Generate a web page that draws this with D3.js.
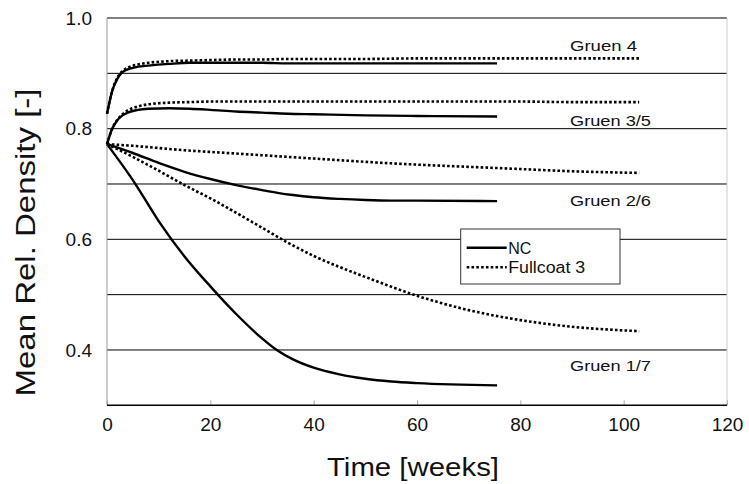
<!DOCTYPE html>
<html>
<head>
<meta charset="utf-8">
<script src="https://cdn.jsdelivr.net/npm/d3@7"></script>
<style>
  body { margin: 0; background: #fff; }
  text { font-family: "Liberation Sans", Arial, Helvetica, sans-serif; fill: #111; }
</style>
</head>
<body>
<div class="chart"></div>
<script>
var margin = {top: 18, right: 22, bottom: 78.7, left: 107};
var width = 749 - margin.left - margin.right;
var height = 484 - margin.top - margin.bottom;

// data
let ncWeeks = [0, 1, 2, 3, 4, 6, 8, 12, 16, 20, 25, 30, 35, 40, 50, 60, 75.5];
let gruen4NC  = [0.827, 0.868, 0.890, 0.902, 0.907, 0.912, 0.914, 0.917, 0.919, 0.919, 0.919, 0.919, 0.918, 0.918, 0.918, 0.918, 0.918];
let gruen35NC = [0.772, 0.800, 0.815, 0.824, 0.829, 0.834, 0.836, 0.837, 0.836, 0.834, 0.831, 0.829, 0.827, 0.826, 0.824, 0.823, 0.822];

let fcWeeks = [0, 1, 2, 3, 4, 6, 8, 12, 16, 20, 25, 30, 35, 40, 50, 60, 70, 80, 90, 103];
let gruen4FC  = [0.827, 0.868, 0.892, 0.904, 0.910, 0.916, 0.919, 0.922, 0.923, 0.924, 0.925, 0.925, 0.926, 0.926, 0.926, 0.927, 0.927, 0.927, 0.927, 0.927];
let gruen35FC = [0.772, 0.800, 0.816, 0.826, 0.833, 0.840, 0.844, 0.847, 0.848, 0.849, 0.849, 0.849, 0.849, 0.849, 0.849, 0.849, 0.849, 0.849, 0.848, 0.848];

let lowNcWeeks = [0, 5, 10, 15, 20, 25, 30, 33, 36, 40, 45, 50, 55, 60, 75.5];
let gruen26NC = [0.772, 0.756, 0.738, 0.722, 0.709, 0.698, 0.689, 0.684, 0.680, 0.676, 0.673, 0.671, 0.670, 0.670, 0.669];
let gruen17NC = [0.772, 0.707, 0.633, 0.569, 0.515, 0.465, 0.421, 0.399, 0.383, 0.368, 0.356, 0.348, 0.343, 0.340, 0.336];

let lowFcWeeks = [0, 5, 10, 15, 20, 25, 30, 35, 40, 45, 50, 60, 70, 80, 90, 103];
let gruen26FC = [0.772, 0.769, 0.765, 0.761, 0.758, 0.755, 0.752, 0.749, 0.746, 0.743, 0.740, 0.735, 0.731, 0.727, 0.723, 0.720];
let gruen17FC = [0.772, 0.749, 0.724, 0.698, 0.674, 0.648, 0.621, 0.594, 0.570, 0.550, 0.532, 0.498, 0.472, 0.454, 0.442, 0.434];

let xTicks = [0, 20, 40, 60, 80, 100, 120];
let yTickLabels = [0.4, 0.6, 0.8, 1.0];
let gridValues = [0.4, 0.5, 0.6, 0.7, 0.8, 0.9, 1.0];

let labels = [
  {text: 'Gruen 4', y: 0.94},
  {text: 'Gruen 3/5', y: 0.804},
  {text: 'Gruen 2/6', y: 0.66},
  {text: 'Gruen 1/7', y: 0.362}
];
let legendItems = [{name: 'NC', dash: null}, {name: 'Fullcoat 3', dash: '2.6,2.2'}];

let zip = (ts, vs) => ts.map((t, i) => [t, vs[i]]);
let series = [
  {pts: zip(ncWeeks, gruen4NC), dotted: false},
  {pts: zip(fcWeeks, gruen4FC), dotted: true},
  {pts: zip(ncWeeks, gruen35NC), dotted: false},
  {pts: zip(fcWeeks, gruen35FC), dotted: true},
  {pts: zip(lowNcWeeks, gruen26NC), dotted: false},
  {pts: zip(lowFcWeeks, gruen26FC), dotted: true},
  {pts: zip(lowNcWeeks, gruen17NC), dotted: false},
  {pts: zip(lowFcWeeks, gruen17FC), dotted: true}
];

let svg = d3.select('.chart')
  .append('svg')
  .attr('width', 749)
  .attr('height', 484)
  .append('g')
  .attr('transform', `translate(${margin.left}, ${margin.top})`);

let xScale = d3.scaleLinear().domain([0, 120]).range([0, width]);
let yScale = d3.scaleLinear().domain([0.3, 1.0]).range([height, 0]);

// gridlines
svg.selectAll('.grid')
  .data(gridValues)
  .enter()
  .append('line')
  .attr('x1', 0)
  .attr('x2', width)
  .attr('y1', d => yScale(d))
  .attr('y2', d => yScale(d))
  .style('stroke', '#000')
  .style('stroke-width', 1);

// left and right borders
svg.append('line').attr('x1', 0).attr('x2', 0).attr('y1', 0).attr('y2', height)
  .style('stroke', '#999').style('stroke-width', 1);
svg.append('line').attr('x1', width).attr('x2', width).attr('y1', 0).attr('y2', height)
  .style('stroke', '#ccc').style('stroke-width', 1);

// x axis
let xAxis = d3.axisBottom(xScale).tickValues(xTicks).tickSize(-5).tickPadding(20).tickFormat(d3.format('d'));
let xg = svg.append('g').attr('transform', `translate(0, ${height})`).call(xAxis);
xg.select('.domain').remove();
xg.selectAll('.tick line').style('stroke', '#aaa');
xg.selectAll('.tick text').style('font-size', '19px').attr('dy', '0.3em');
xg.append('line').attr('x1', 0).attr('x2', width).style('stroke', '#000').style('stroke-width', 1.5);

// y axis labels
let yAxis = d3.axisLeft(yScale).tickValues(yTickLabels).tickSize(0).tickPadding(15).tickFormat(d3.format('.1f'));
let yg = svg.append('g').call(yAxis);
yg.select('.domain').remove();
yg.selectAll('.tick text').style('font-size', '19px');

// curves
let line = d3.line()
  .x(d => xScale(d[0]))
  .y(d => yScale(d[1]))
  .curve(d3.curveMonotoneX);

svg.selectAll('.series')
  .data(series)
  .enter()
  .append('path')
  .attr('d', d => line(d.pts))
  .style('fill', 'none')
  .style('stroke', '#000')
  .style('stroke-width', d => d.dotted ? 2.6 : 2.4)
  .style('stroke-dasharray', d => d.dotted ? '2.6,2.2' : null);

// series labels
svg.selectAll('.label')
  .data(labels)
  .enter()
  .append('text')
  .attr('x', 463)
  .attr('y', d => yScale(d.y))
  .attr('textLength', d => d.text.length > 7 ? 81 : 67)
  .attr('lengthAdjust', 'spacingAndGlyphs')
  .style('font-size', '15.5px')
  .text(d => d.text);

// legend
let legend = svg.append('g').attr('transform', 'translate(353.7, 211)');
legend.append('rect')
  .attr('width', 159.3)
  .attr('height', 55)
  .style('fill', '#fff')
  .style('stroke', '#333')
  .style('stroke-width', 1);
let li = legend.selectAll('.li')
  .data(legendItems)
  .enter()
  .append('g')
  .attr('transform', (d, i) => `translate(0, ${18.7 + i * 19.6})`);
li.append('line')
  .attr('x1', 6)
  .attr('x2', 46)
  .style('stroke', '#000')
  .style('stroke-width', d => d.dash ? 2.6 : 2.4)
  .style('stroke-dasharray', d => d.dash);
li.append('text')
  .attr('x', 47.5)
  .attr('y', 6)
  .attr('textLength', d => d.name === 'NC' ? null : 77)
  .attr('lengthAdjust', 'spacingAndGlyphs')
  .style('font-size', '16px')
  .text(d => d.name);

// axis titles
svg.append('text')
  .attr('x', width / 2 - 4)
  .attr('y', height + 71)
  .attr('text-anchor', 'middle')
  .attr('textLength', 172)
  .attr('lengthAdjust', 'spacingAndGlyphs')
  .style('font-size', '26.5px')
  .text('Time [weeks]');

svg.append('text')
  .attr('transform', `translate(${35 - margin.left}, ${242.5 - margin.top}) rotate(-90)`)
  .attr('text-anchor', 'middle')
  .attr('textLength', 308)
  .attr('lengthAdjust', 'spacingAndGlyphs')
  .style('font-size', '27px')
  .text('Mean Rel. Density [-]');
</script>
</body>
</html>
